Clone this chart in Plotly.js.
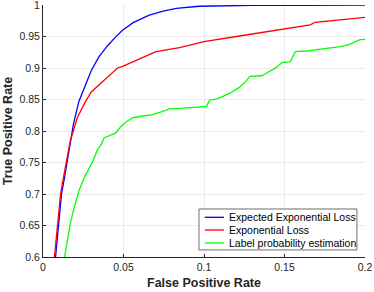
<!DOCTYPE html>
<html><head><meta charset="utf-8">
<script src="https://cdn.plot.ly/plotly-3.0.1.min.js"></script>
<style>html,body{margin:0;padding:0;background:#fff}#c{width:374px;height:292px}</style>
</head><body><div id="c"></div>
<script>
var seriesNames = ["Expected Exponential Loss", "Exponential Loss", "Label probability estimation"];
var seriesColors = ["#0000ff", "#ff0000", "#00ff00"];
var expX = [0.0078, 0.0097, 0.0115, 0.0133, 0.0150, 0.0161, 0.0190, 0.0223, 0.0260, 0.0300, 0.0348, 0.0400, 0.0450, 0.0494, 0.0560, 0.0660, 0.0740, 0.0828, 0.0970, 0.1100, 0.1300, 0.1600, 0.2000];
var expY = [0.600, 0.650, 0.700, 0.725, 0.750, 0.773, 0.812, 0.847, 0.872, 0.896, 0.918, 0.935, 0.949, 0.960, 0.972, 0.984, 0.990, 0.9947, 0.998, 0.9990, 0.9995, 0.9995, 0.9997];
var lossX = [0.0071, 0.0090, 0.0109, 0.0127, 0.0145, 0.0170, 0.0213, 0.0260, 0.0300, 0.0348, 0.0400, 0.0463, 0.0494, 0.0600, 0.0702, 0.0848, 0.0973, 0.1000, 0.1250, 0.1500, 0.1660, 0.1690, 0.1800, 0.2000];
var lossY = [0.600, 0.650, 0.700, 0.726, 0.750, 0.785, 0.821, 0.845, 0.862, 0.873, 0.885, 0.900, 0.9025, 0.915, 0.926, 0.9325, 0.940, 0.942, 0.952, 0.9615, 0.9684, 0.9726, 0.975, 0.9805];
var labelX = [0.0134, 0.0152, 0.0171, 0.0195, 0.0223, 0.0260, 0.0306, 0.0338, 0.0360, 0.0379, 0.0420, 0.0452, 0.0470, 0.0494, 0.0520, 0.0556, 0.0600, 0.0680, 0.0730, 0.0786, 0.0850, 0.0973, 0.1015, 0.1036, 0.1080, 0.1118, 0.1160, 0.1213, 0.1250, 0.1286, 0.1330, 0.1359, 0.1390, 0.1421, 0.1450, 0.1484, 0.1510, 0.1536, 0.1567, 0.1640, 0.1723, 0.1790, 0.1848, 0.1900, 0.1942, 0.1970, 0.2006];
var labelY = [0.600, 0.630, 0.655, 0.680, 0.705, 0.728, 0.750, 0.770, 0.778, 0.789, 0.793, 0.797, 0.803, 0.810, 0.815, 0.821, 0.823, 0.826, 0.830, 0.835, 0.836, 0.839, 0.839, 0.849, 0.851, 0.855, 0.860, 0.868, 0.876, 0.8866, 0.887, 0.8877, 0.892, 0.896, 0.901, 0.9087, 0.909, 0.910, 0.926, 0.927, 0.930, 0.932, 0.934, 0.937, 0.942, 0.945, 0.9457];
var xTicks = [0, 0.05, 0.1, 0.15, 0.2];
var xTickText = ["0", "0.05", "0.1", "0.15", "0.2"];
var yTicks = [0.6, 0.65, 0.7, 0.75, 0.8, 0.85, 0.9, 0.95, 1];
var yTickText = ["0.6", "0.65", "0.7", "0.75", "0.8", "0.85", "0.9", "0.95", "1"];

var seriesX = [expX, lossX, labelX];
var seriesY = [expY, lossY, labelY];
var traces = seriesNames.map(function (n, i) {
  return {x: seriesX[i], y: seriesY[i], name: n, mode: "lines", line: {color: seriesColors[i], width: 1.3}};
});

// legend drawn in paper coordinates
var legBox = {x0: 0.4845, x1: 0.975, y0: 0.028, y1: 0.1905};
var legRows = [0.1575, 0.1071, 0.0556];
var shapes = [{type: "rect", xref: "paper", yref: "paper", x0: legBox.x0, x1: legBox.x1, y0: legBox.y0, y1: legBox.y1,
               line: {color: "#6e6e6e", width: 1}, fillcolor: "#ffffff", layer: "above"}];
var annotations = [];
seriesNames.forEach(function (n, i) {
  shapes.push({type: "line", xref: "paper", yref: "paper", x0: 0.5025, x1: 0.5621, y0: legRows[i], y1: legRows[i],
               line: {color: seriesColors[i], width: 1.3}, layer: "above"});
  annotations.push({xref: "paper", yref: "paper", x: 0.5705, y: legRows[i], xanchor: "left", yanchor: "middle",
                    text: n, showarrow: false, font: {size: 10.5, color: "#000"}});
});

var font = "Liberation Sans, Arial, Helvetica, sans-serif";
var layout = {
  width: 374, height: 292,
  margin: {l: 43, r: 9, t: 5, b: 35, pad: 0},
  paper_bgcolor: "#fff", plot_bgcolor: "#fff",
  font: {family: font, size: 10.5, color: "#262626"},
  showlegend: false,
  shapes: shapes,
  annotations: annotations,
  xaxis: {range: [0, 0.2], tickvals: xTicks, ticktext: xTickText, showgrid: true,
          gridcolor: "#ebebeb", gridwidth: 1, zeroline: false, showline: true,
          linecolor: "#262626", linewidth: 1, ticks: "inside", ticklen: 3, tickcolor: "#262626",
          ticklabeloverflow: "allow",
          title: {text: "False Positive Rate", font: {size: 12.5, color: "#262626", weight: "bold"}, standoff: 6},
          automargin: false, fixedrange: true},
  yaxis: {range: [0.6, 1], tickvals: yTicks, ticktext: yTickText, showgrid: true,
          gridcolor: "#ebebeb", gridwidth: 1, zeroline: false, showline: true,
          linecolor: "#262626", linewidth: 1, ticks: "inside", ticklen: 3, tickcolor: "#262626",
          ticklabeloverflow: "allow",
          title: {text: "True Positive Rate", font: {size: 12.5, color: "#262626", weight: "bold"}, standoff: 4},
          automargin: false, fixedrange: true}
};
Plotly.newPlot("c", traces, layout, {staticPlot: true, displayModeBar: false});
</script></body></html>
